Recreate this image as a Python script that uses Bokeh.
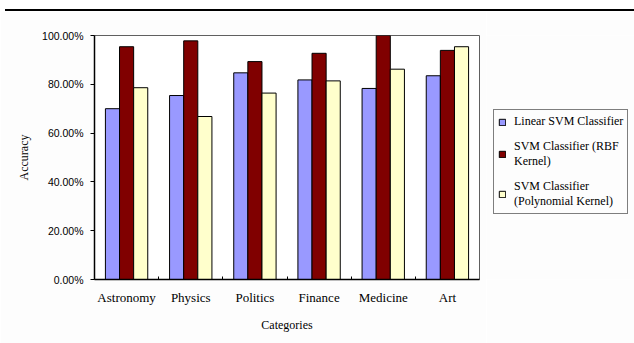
from bokeh.plotting import figure
from bokeh.models import ColumnDataSource, FixedTicker, NumeralTickFormatter, Legend, LegendItem, Div
from bokeh.layouts import column, row
from bokeh.embed import file_html
from bokeh.resources import INLINE

categories = ["Astronomy", "Physics", "Politics", "Finance", "Medicine", "Art"]
linear_svm = [0.700, 0.754, 0.847, 0.818, 0.783, 0.835]
rbf_svm = [0.954, 0.978, 0.893, 0.927, 1.000, 0.939]
poly_svm = [0.786, 0.668, 0.764, 0.814, 0.862, 0.954]
series_names = ["Linear SVM Classifier", "SVM Classifier (RBF\nKernel)", "SVM Classifier\n(Polynomial Kernel)"]
y_ticks = [0.0, 0.2, 0.4, 0.6, 0.8, 1.0]

colors = ["#9999FF", "#800000", "#FFFFCC"]
bar_w = 0.22
offsets = [-bar_w, 0.0, bar_w]

centers = [i + 0.5 for i in range(len(categories))]
bounds = [i for i in range(1, len(categories))]

BG = "#fdfdfd"

p = figure(width=486, height=332, x_range=(0, len(categories)), y_range=(0, 1.0),
           output_backend="svg", toolbar_location=None,
           min_border_left=94, min_border_right=7, min_border_top=24, min_border_bottom=64)
p.border_fill_color = BG
p.background_fill_color = "#ffffff"
p.outline_line_color = "#606060"
p.outline_line_width = 1
p.xgrid.visible = False
p.ygrid.visible = False

sources = []
renderers = []
for vals, col, off in zip([linear_svm, rbf_svm, poly_svm], colors, offsets):
    src = ColumnDataSource(dict(x=[c + off for c in centers], top=vals))
    sources.append(src)
    r = p.vbar(x="x", top="top", width=bar_w, bottom=0, source=src,
               fill_color=col, line_color="#000000", line_width=1)
    renderers.append(r)

# x axis
p.xaxis.ticker = FixedTicker(ticks=centers, minor_ticks=bounds)
p.xaxis.major_label_overrides = {c: n for c, n in zip(centers, categories)}
p.xaxis.major_tick_in = 0
p.xaxis.major_tick_out = 0
p.xaxis.minor_tick_in = 3
p.xaxis.minor_tick_out = 0
p.xaxis.minor_tick_line_color = "#000000"
p.xaxis.axis_line_color = "#000000"
p.xaxis.axis_line_width = 1.5
p.xaxis.major_label_text_font = "Liberation Serif"
p.xaxis.major_label_text_font_size = "13px"
p.xaxis.major_label_text_color = "#000000"
p.xaxis.major_label_standoff = 10
p.xaxis.axis_label = "Categories"
p.xaxis.axis_label_text_font = "Liberation Serif"
p.xaxis.axis_label_text_font_style = "normal"
p.xaxis.axis_label_text_font_size = "12px"
p.xaxis.axis_label_text_color = "#000000"
p.xaxis.axis_label_standoff = 10

# y axis
p.yaxis.ticker = FixedTicker(ticks=y_ticks, minor_ticks=[])
p.yaxis.formatter = NumeralTickFormatter(format="0.00%")
p.yaxis.major_tick_in = 0
p.yaxis.major_tick_out = 4
p.yaxis.major_tick_line_color = "#000000"
p.yaxis.axis_line_color = "#000000"
p.yaxis.axis_line_width = 1.5
p.yaxis.major_label_text_font = "Liberation Sans"
p.yaxis.major_label_text_font_size = "10.5px"
p.yaxis.major_label_text_color = "#000000"
p.yaxis.major_label_standoff = 7
p.yaxis.axis_label = "Accuracy"
p.yaxis.axis_label_text_font = "Liberation Serif"
p.yaxis.axis_label_text_font_style = "normal"
p.yaxis.axis_label_text_font_size = "12px"
p.yaxis.axis_label_text_color = "#000000"
p.yaxis.axis_label_standoff = 8

# legend panel (separate figure, no axes; its bars lie outside its view)
lp = figure(width=148, height=332, x_range=(-20, -19), y_range=(0, 1),
            output_backend="svg", toolbar_location=None,
            x_axis_location=None, y_axis_location=None,
            min_border=0, min_border_left=0, min_border_right=0,
            min_border_top=0, min_border_bottom=0)
lp.border_fill_color = BG
lp.background_fill_color = BG
lp.outline_line_color = None
lp.xgrid.visible = False
lp.ygrid.visible = False

leg_renderers = []
for src, col in zip(sources, colors):
    r = lp.vbar(x="x", top="top", width=bar_w, bottom=0, source=src,
                fill_color=col, line_color="#000000", line_width=1)
    leg_renderers.append(r)

legend = Legend(items=[LegendItem(label=n, renderers=[r]) for n, r in zip(series_names, leg_renderers)],
                location=(7, 65))
legend.label_text_font = "Liberation Serif"
legend.label_text_font_size = "12px"
legend.label_text_color = "#000000"
legend.label_height = 12
legend.glyph_width = 8
legend.glyph_height = 8
legend.label_standoff = 8
legend.spacing = 10
legend.padding = 4
legend.margin = 0
legend.border_line_color = "#000000"
legend.border_line_width = 1
legend.background_fill_color = BG
legend.background_fill_alpha = 1.0
lp.add_layout(legend, "center")

topline = Div(text="", width=629, height=2, margin=(9, 0, 0, 5),
              styles={"background-color": "#000000"})

layout = column(topline, row(p, lp, spacing=0), spacing=0)

open("out.html", "w").write(file_html(layout, INLINE))
